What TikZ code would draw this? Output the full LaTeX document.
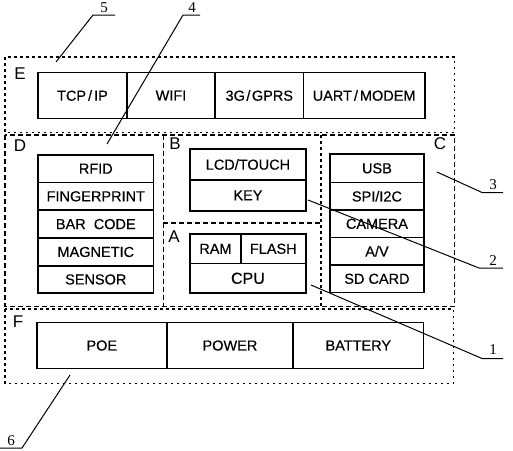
\documentclass[tikz,border=0pt]{standalone}
\usepackage{fontspec}
\setmainfont{Liberation Serif}
\setsansfont{Liberation Sans}
\newfontfamily\cellfont{Liberation Sans}[FakeBold=0.4]
\begin{document}
\begin{tikzpicture}[x=1pt,y=-1pt,
  cell/.style={draw, line width=1.6pt, inner sep=0pt, anchor=north west,
    font=\cellfont\fontsize{14.5}{15}\selectfont},
  region/.style={inner sep=0pt, anchor=north west},
  dotln/.style={line width=1.6pt, dash pattern=on 2.5pt off 3.5pt},
  dashln/.style={line width=1.4pt, dash pattern=on 5pt off 3pt},
  reglabel/.style={font=\sffamily\fontsize{17}{17}\selectfont, inner sep=0pt},
  numlabel/.style={font=\rmfamily\fontsize{15}{15}\selectfont, inner sep=0pt},
  leader/.style={line width=1pt}
]
\useasboundingbox (0,0) rectangle (513,450);
% regions (named frames)
\node[region, minimum width=449pt, minimum height=75pt] (E) at (5,57) {};
\node[region, minimum width=158pt, minimum height=171pt] (D) at (5,135) {};
\node[region, minimum width=158pt, minimum height=88pt] (B) at (163,135) {};
\node[region, minimum width=158pt, minimum height=83pt] (A) at (163,223) {};
\node[region, minimum width=133pt, minimum height=171pt] (C) at (321,135) {};
\node[region, minimum width=448pt, minimum height=74pt] (F) at (5,309) {};
\draw[dotln] (E.north west) rectangle (E.south east);
\draw[dashln] (D.north west) rectangle (C.south east);
\draw[dashln] (D.north east) -- (D.south east);
\draw[dotln] (C.north west) -- (C.south west);
\draw[dashln] (A.north west) -- (A.north east);
\draw[dotln] (F.north west) rectangle (F.south east);
% region labels
\node[reglabel] (lE) at (20,74) {E};
\node[reglabel] (lD) at (20,146) {D};
\node[reglabel] (lB) at (175,144) {B};
\node[reglabel] (lA) at (174,237) {A};
\node[reglabel] (lC) at (440,144) {C};
\node[reglabel] (lF) at (18,322) {F};
% E row
\node[cell, minimum width=88.7pt, minimum height=46pt] (tcp) at (37.3,71.7) {TCP\kern2pt/\kern2pt IP};
\node[cell, minimum width=88.3pt, minimum height=46pt] (wifi) at (126,71.7) {WIFI};
\node[cell, minimum width=88.4pt, minimum height=46pt] (gprs) at (214.3,71.7) {3G\kern1.5pt/\kern1.5pt GPRS};
\node[cell, minimum width=121.3pt, minimum height=46pt] (uart) at (302.7,71.7) {UART\kern2pt/\kern2pt MODEM};
% D column
\node[cell, minimum width=115.4pt, minimum height=27.7pt] (rfid) at (37.3,154) {RFID};
\node[cell, minimum width=115.4pt, minimum height=27.6pt] (finger) at (37.3,181.7) {FINGERPRINT};
\node[cell, minimum width=115.4pt, minimum height=28pt] (bar) at (37.3,209.3) {BAR\ \ CODE};
\node[cell, minimum width=115.4pt, minimum height=27.7pt] (mag) at (37.3,237.3) {MAGNETIC};
\node[cell, minimum width=115.4pt, minimum height=27.3pt] (sensor) at (37.3,265) {SENSOR};
% B
\node[cell, minimum width=115.7pt, minimum height=30.7pt] (lcd) at (189.3,148.3) {LCD/TOUCH};
\node[cell, minimum width=115.7pt, minimum height=31pt] (key) at (189.3,179) {KEY};
% A
\node[cell, minimum width=50.7pt, minimum height=29.4pt] (ram) at (189.3,233.3) {RAM};
\node[cell, minimum width=65pt, minimum height=29.4pt] (flash) at (240,233.3) {FLASH};
\node[cell, minimum width=115.7pt, minimum height=29.6pt, font=\cellfont\fontsize{16}{16}\selectfont] (cpu) at (189.3,262.7) {CPU};
% C column
\node[cell, minimum width=94.3pt, minimum height=28.4pt] (usb) at (329,153.3) {USB};
\node[cell, minimum width=94.3pt, minimum height=27.6pt] (spi) at (329,181.7) {SPI/I2C};
\node[cell, minimum width=94.3pt, minimum height=27.4pt] (cam) at (329,209.3) {CAMERA};
\node[cell, minimum width=94.3pt, minimum height=27.6pt] (av) at (329,236.7) {A/V};
\node[cell, minimum width=94.3pt, minimum height=27.4pt] (sd) at (329,264.3) {SD CARD};
% F row
\node[cell, minimum width=130pt, minimum height=46pt] (poe) at (36,321.7) {POE};
\node[cell, minimum width=126.3pt, minimum height=46pt] (power) at (166,321.7) {POWER};
\node[cell, minimum width=130.4pt, minimum height=46pt] (batt) at (292.3,321.7) {BATTERY};
% leader lines
\coordinate (a5) at (56,62); \coordinate (b5) at (93,15); \coordinate (c5) at (115,15);
\coordinate (a4) at (107,144); \coordinate (b4) at (183,15); \coordinate (c4) at (200,15);
\coordinate (a3) at (437,172); \coordinate (b3) at (482,192.5); \coordinate (c3) at (503,192.5);
\coordinate (a2) at (308,200); \coordinate (b2) at (479,268); \coordinate (c2) at (503,268);
\coordinate (a1) at (311,285); \coordinate (b1) at (482,358.5); \coordinate (c1) at (503,358.5);
\coordinate (a6) at (70,375); \coordinate (b6) at (22,448); \coordinate (c6) at (0,448);
\draw[leader] (a5) -- (b5) -- (c5);
\draw[leader] (a4) -- (b4) -- (c4);
\draw[leader] (a3) -- (b3) -- (c3);
\draw[leader] (a2) -- (b2) -- (c2);
\draw[leader] (a1) -- (b1) -- (c1);
\draw[leader] (a6) -- (b6) -- (c6);
\node[numlabel] (n5) at (104,7.5) {5};
\node[numlabel] (n4) at (192,7.5) {4};
\node[numlabel] (n3) at (493,184.5) {3};
\node[numlabel] (n2) at (493,261) {2};
\node[numlabel] (n1) at (493,349.5) {1};
\node[numlabel] (n6) at (11,441) {6};
\end{tikzpicture}
\end{document}
